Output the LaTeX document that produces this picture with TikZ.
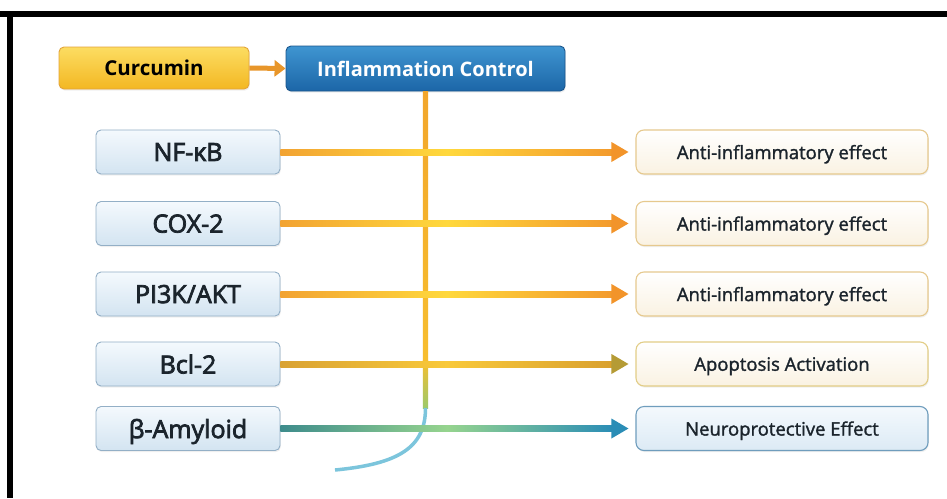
\documentclass[tikz,border=0pt]{standalone}
\usepackage{fontspec}
\setmainfont{Open Sans}
\newfontfamily\semifont{Open Sans}[FakeBold=3]
\newfontfamily\medfont{Open Sans}[FakeBold=1.5]
\usetikzlibrary{arrows.meta,calc,shadows}
\definecolor{txtdark}{HTML}{1B242C}
\definecolor{tgtedge}{HTML}{93AFC6}
\definecolor{tgttop}{HTML}{F4F9FD}
\definecolor{tgtbot}{HTML}{D3E4F1}
\definecolor{effedge}{HTML}{E6C98E}
\definecolor{effbot}{HTML}{FAF2E2}
\definecolor{apoedge}{HTML}{E2CD86}
\definecolor{neuedge}{HTML}{6F9DBD}
\definecolor{neubot}{HTML}{DCEAF5}
\definecolor{curtop}{HTML}{FCDD62}
\definecolor{curbot}{HTML}{F3B722}
\definecolor{curedge}{HTML}{E3A43A}
\definecolor{ctrltop}{HTML}{3F95D1}
\definecolor{ctrlbot}{HTML}{1C66A7}
\definecolor{ctrledge}{HTML}{1A558C}
\definecolor{orgL}{HTML}{F2A332}
\definecolor{orgM}{HTML}{FFD83C}
\definecolor{orgR}{HTML}{F39A2C}
\definecolor{orghead}{HTML}{F2942A}
\definecolor{bclL}{HTML}{D9A233}
\definecolor{bclM}{HTML}{F9C93A}
\definecolor{bclR}{HTML}{D9A02E}
\definecolor{bclhead}{HTML}{B59B35}
\definecolor{amyL}{HTML}{3E8C8C}
\definecolor{amyM}{HTML}{96D48E}
\definecolor{amyR}{HTML}{2A8DB6}
\definecolor{vorange}{HTML}{F2A62C}
\definecolor{vyellow}{HTML}{F7BE2E}
\definecolor{vgreen}{HTML}{9CC96A}
\definecolor{curvec}{HTML}{7CC5DC}
\definecolor{linkc}{HTML}{E8962A}

\newcommand{\flowarrow}[6]{%
  \shade[left color=#3, right color=#5, middle color=#4]
    ($(#1.east)+(0,-3)$) rectangle ($(#2.west)+(-22,3)$);
  \fill[#6] ($(#2.west)+(-24,-10)$) -- ($(#2.west)+(-7,0)$) -- ($(#2.west)+(-24,10)$) -- cycle;}

\tikzset{
  basebox/.style={rounded corners=5pt, minimum height=44pt, inner sep=0pt, text=txtdark, text depth=0pt,
    drop shadow={opacity=0.12, shadow xshift=0.8pt, shadow yshift=-1.6pt}},
  targetbox/.style={basebox, minimum width=184pt, draw=tgtedge, line width=0.9pt,
    top color=tgttop, bottom color=tgtbot, font=\fontsize{25}{30}\semifont},
  effbox/.style={basebox, rounded corners=8pt, minimum width=292pt, draw=effedge, line width=1.1pt,
    top color=white, bottom color=effbot, font=\fontsize{18.5}{22}\medfont},
  apobox/.style={effbox, draw=apoedge},
  neubox/.style={effbox, draw=neuedge, top color=tgttop, bottom color=neubot},
}

\begin{document}
\begin{tikzpicture}[x=1pt, y=-1pt]
  \useasboundingbox (0,0) rectangle (947,498);
  \fill[white] (0,0) rectangle (947,498);
  \fill[black] (0,11) rectangle (947,17);
  \fill[black] (7,11) rectangle (13,498);

  \node[basebox, minimum width=190pt, minimum height=42pt, draw=curedge, line width=0.9pt, text=black,
    top color=curtop, bottom color=curbot, font=\fontsize{20.5}{24}\selectfont\bfseries] (cur) at (154,68) {Curcumin};
  \node[basebox, minimum width=279pt, minimum height=45pt, draw=ctrledge, line width=0.9pt,
    top color=ctrltop, bottom color=ctrlbot, text=white, font=\fontsize{20}{24}\selectfont\bfseries] (ctrl) at (425.5,68.5) {Inflammation Control};
  \draw[linkc, line width=5pt, -{Triangle[length=11pt, width=16pt]}] (cur.east) -- (ctrl.west);

  \node[targetbox] (nfkb) at (188,152) {NF-κB};
  \node[targetbox] (cox) at (188,223.5) {COX-2};
  \node[targetbox] (pik) at (188,294) {PI3K/AKT};
  \node[targetbox] (bcl) at (188,364) {Bcl-2};
  \node[targetbox] (amy) at (188,428.5) {β-Amyloid};

  \node[effbox] (eff1) at (782,152) {Anti-inflammatory effect};
  \node[effbox] (eff2) at (782,223.5) {Anti-inflammatory effect};
  \node[effbox] (eff3) at (782,294) {Anti-inflammatory effect};
  \node[apobox] (apo) at (782,364) {Apoptosis Activation};
  \node[neubox] (neu) at (782,428.5) {Neuroprotective Effect};

  \coordinate (vmid) at (425.5,360);
  \coordinate (bend) at (425.5,408);
  \coordinate (tail) at (335,470);
  \shade[top color=vorange, bottom color=vyellow] ($(ctrl.south)+(-2.6,0)$) rectangle ($(vmid)+(2.6,0)$);
  \shade[top color=vyellow, bottom color=vgreen] ($(vmid)+(-2.6,0)$) rectangle ($(bend)+(2.6,0)$);
  \draw[curvec, line width=3.5pt] (bend) .. controls (425.5,448) and (398,464) .. (tail);

  \flowarrow{nfkb}{eff1}{orgL}{orgM}{orgR}{orghead}
  \flowarrow{cox}{eff2}{orgL}{orgM}{orgR}{orghead}
  \flowarrow{pik}{eff3}{orgL}{orgM}{orgR}{orghead}
  \flowarrow{bcl}{apo}{bclL}{bclM}{bclR}{bclhead}
  \flowarrow{amy}{neu}{amyL}{amyM}{amyR}{amyR}
\end{tikzpicture}
\end{document}
